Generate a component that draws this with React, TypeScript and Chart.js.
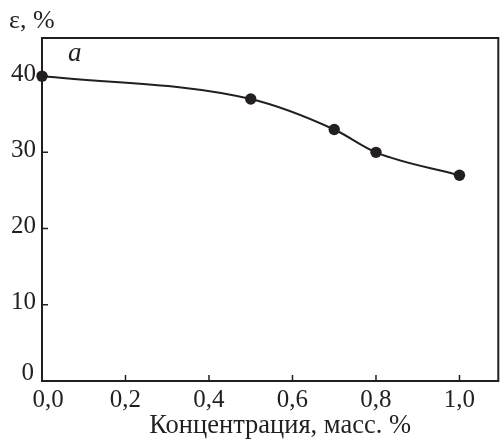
import React, { useEffect, useRef } from "react";
import { Chart, registerables } from "chart.js";

Chart.register(...registerables);

const concentration = [0, 0.5, 0.7, 0.8, 1.0];
const elongation = [40, 37, 33, 30, 27];
const xTickValues = [0, 0.2, 0.4, 0.6, 0.8, 1.0];
const yTickValues = [0, 10, 20, 30, 40];
const xTitle = "Концентрация, масс. %";
const yTitle = "ε, %";
const panelLabel = "a";

const INK = "#231f20";
const FONT = "'Liberation Serif', 'DejaVu Serif', serif";
const TICK_SIZE = 25;

const fmtX = (v: number) => v.toFixed(1).replace(".", ",");

const framePlugin = {
  id: "frameAndTicks",
  afterDraw(chart: any) {
    const { ctx, chartArea, scales } = chart;
    const { left, top, right, bottom } = chartArea;
    ctx.save();
    ctx.strokeStyle = INK;
    ctx.lineWidth = 2;
    ctx.strokeRect(left, top, right - left, bottom - top);
    ctx.lineWidth = 1.5;
    ctx.beginPath();
    xTickValues.forEach((v) => {
      const px = scales.x.getPixelForValue(v);
      ctx.moveTo(px, bottom);
      ctx.lineTo(px, bottom - 6);
    });
    yTickValues.forEach((v) => {
      const py = scales.y.getPixelForValue(v);
      ctx.moveTo(left, py);
      ctx.lineTo(left + 6, py);
    });
    ctx.stroke();

    ctx.fillStyle = INK;
    ctx.font = `${TICK_SIZE}px ${FONT}`;
    // x tick labels
    ctx.textAlign = "center";
    ctx.textBaseline = "alphabetic";
    xTickValues.forEach((v, i) => {
      const px = scales.x.getPixelForValue(v) + (i === 0 ? 6 : 0);
      ctx.fillText(fmtX(v), px, bottom + 26);
    });
    // y tick labels
    ctx.textAlign = "right";
    ctx.textBaseline = "middle";
    yTickValues.forEach((v, i) => {
      const py = scales.y.getPixelForValue(v) - (i === 0 ? 8 : 2);
      ctx.fillText(String(v), left - (i === 0 ? 8 : 6), py);
    });

    // axis titles and panel label
    ctx.textAlign = "center";
    ctx.textBaseline = "alphabetic";
    ctx.font = `26.5px ${FONT}`;
    ctx.fillText(xTitle, (left + right) / 2 + 10, 433);
    ctx.textAlign = "left";
    ctx.font = `26px ${FONT}`;
    ctx.fillText(yTitle, 9, 28);
    ctx.font = `italic 27px ${FONT}`;
    ctx.fillText(panelLabel, left + 26, top + 23);
    ctx.restore();
  },
};

export default function App() {
  const ref = useRef<HTMLCanvasElement | null>(null);
  useEffect(() => {
    if (!ref.current) return;
    const chart = new Chart(ref.current, {
      type: "line",
      data: {
        datasets: [
          {
            data: concentration.map((c, i) => ({ x: c, y: elongation[i] })),
            borderColor: INK,
            backgroundColor: INK,
            borderWidth: 2,
            pointRadius: 5.7,
            pointBackgroundColor: INK,
            pointBorderWidth: 0,
            cubicInterpolationMode: "monotone",
            clip: false as any,
          },
        ],
      },
      options: {
        animation: false,
        responsive: false,
        devicePixelRatio: 1,
        layout: { padding: { top: 38, right: 3, left: 0, bottom: 0 } },
        plugins: { legend: { display: false }, tooltip: { enabled: false } },
        scales: {
          x: {
            type: "linear",
            min: 0,
            max: 1.093,
            grid: { display: false, drawTicks: false },
            border: { display: false },
            afterBuildTicks: (scale: any) => {
              scale.ticks = xTickValues.map((v) => ({ value: v }));
            },
            afterFit: (scale: any) => {
              scale.height = 58;
            },
            ticks: { display: false },
            title: { display: false, text: xTitle },
          },
          y: {
            type: "linear",
            min: 0,
            max: 45,
            grid: { display: false, drawTicks: false },
            border: { display: false },
            afterBuildTicks: (scale: any) => {
              scale.ticks = yTickValues.map((v) => ({ value: v }));
            },
            afterFit: (scale: any) => {
              scale.width = 42;
            },
            ticks: { display: false },
            title: { display: false, text: yTitle },
          },
        },
      },
      plugins: [framePlugin],
    } as any);
    return () => chart.destroy();
  }, []);
  return (
    <div style={{ position: "fixed", left: 0, top: 0, width: 504, height: 439, background: "#fff" }}>
      <canvas ref={ref} width={504} height={439} style={{ width: 504, height: 439 }} />
    </div>
  );
}
